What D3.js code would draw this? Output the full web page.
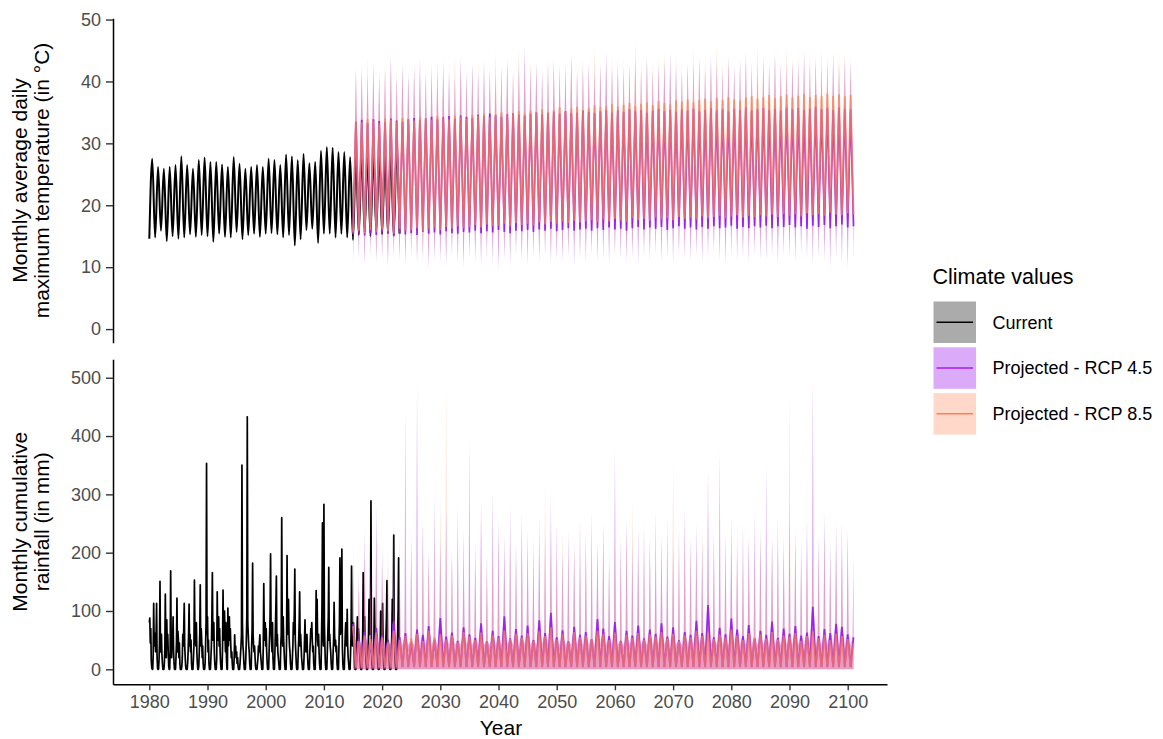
<!DOCTYPE html>
<html><head><meta charset="utf-8">
<script src="https://cdn.jsdelivr.net/npm/d3@7"></script>
<style>
body{margin:0;background:#fff}
svg{display:block}
text{font-family:"Liberation Sans",Arial,Helvetica,sans-serif}
</style>
</head><body>
<svg id="chart" width="1163" height="739"></svg>
<script>
// ---------------- DATA ----------------
const xTickYears = [1980,1990,2000,2010,2020,2030,2040,2050,2060,2070,2080,2090,2100];
const tempTicks = [0,10,20,30,40,50];
const rainTicks = [0,100,200,300,400,500];
const seriesNames = ["Current","Projected - RCP 4.5","Projected - RCP 8.5"];

// Current temperature: winter trough (Jan, 1980-2023) and summer peak (Jul, 1980-2022)
const currentStart = 1980;
const tempCurrentTrough = [14.6,14.8,15.9,14.2,15.0,14.6,14.8,15.3,14.9,15.2,
 15.0,14.1,15.4,14.9,14.8,15.7,14.5,15.2,15.4,14.9,
 15.4,15.5,15.3,14.8,15.2,13.5,14.5,16.0,16.2,13.9,
 15.4,15.4,14.8,15.4,14.8,14.4,15.2,15.6,15.0,15.8,
 15.3,15.5,15.1,15.4];
const tempCurrentPeak = [27.5,26.2,25.9,26.2,26.5,27.9,26.5,25.9,27.3,27.7,
 27.0,27.0,26.6,26.2,27.8,26.7,25.9,26.2,26.5,26.2,
 27.5,27.3,26.5,28.2,27.9,27.3,28.3,26.8,27.0,28.8,
 29.4,29.3,28.6,28.6,27.8,28.4,28.9,28.2,28.7,29.0,
 28.5,28.8,29.1];

// Current monthly rainfall (Jan..Dec), 1980-2022
const rainCurrentMonthly = [
 [80,88,45,70,15,3,0,0,25,113,40,62],
 [55,30,60,113,20,2,0,0,15,45,151,30],
 [40,60,25,10,0,0,0,10,35,129,50,20],
 [85,40,60,30,5,0,0,30,169,55,20,60],
 [40,90,30,10,0,0,0,20,45,122,30,65],
 [50,20,45,10,0,0,0,5,20,60,40,70],
 [113,40,20,5,0,0,0,10,30,60,112,40],
 [60,30,50,10,0,0,0,20,40,153,60,50],
 [40,80,30,10,0,0,5,30,60,145,40,70],
 [50,20,40,10,0,0,0,10,40,80,353,60],
 [90,30,50,10,0,0,0,20,40,90,166,50],
 [60,80,30,10,0,0,0,20,133,50,60,90],
 [40,70,30,10,0,0,0,40,136,50,70,100],
 [60,30,80,20,0,0,105,40,60,90,50,70],
 [40,20,30,10,0,0,0,20,59,30,40,20],
 [30,10,20,5,0,0,0,10,25,40,60,350],
 [80,40,30,10,0,0,0,20,50,90,433,80],
 [60,40,30,10,0,0,0,40,70,182,60,40],
 [30,40,20,5,0,0,0,10,20,40,30,45],
 [59,30,20,10,0,0,0,40,147,60,50,80],
 [40,70,30,10,0,0,0,30,60,90,198,70],
 [50,30,80,20,0,0,0,30,70,110,160,40],
 [60,30,20,10,0,0,0,40,60,260,80,40],
 [90,50,30,10,0,0,0,50,195,60,80,120],
 [60,40,30,10,0,0,0,20,40,80,60,100],
 [172,50,30,10,0,0,0,30,50,80,133,40],
 [60,40,20,10,0,0,0,20,50,85,40,30],
 [40,60,30,10,0,0,0,30,50,70,60,80],
 [50,30,40,10,0,0,0,40,135,60,120,50],
 [40,60,30,10,0,0,0,50,110,251,60,40],
 [283,80,40,10,0,0,0,30,60,90,175,50],
 [60,40,30,10,0,0,0,30,50,115,60,40],
 [50,30,40,10,0,0,0,40,80,191,60,70],
 [100,206,40,10,0,0,0,30,60,80,50,40],
 [103,40,20,10,0,0,0,30,60,177,50,40],
 [60,80,30,10,0,0,0,40,60,90,50,70],
 [60,40,30,10,0,0,0,30,60,166,80,50],
 [90,40,30,10,0,0,0,30,60,120,70,60],
 [80,289,40,10,0,0,0,40,122,80,60,50],
 [40,60,30,10,0,0,0,20,40,100,60,40],
 [60,113,40,10,0,0,0,30,60,90,152,40],
 [50,40,30,10,0,0,0,30,60,120,80,90],
 [230,60,40,10,0,0,0,30,60,100,191,40]
];

// Projected (2015-2100/2101): multi-model mean peaks/troughs and ribbon extremes
const projStart = 2015;
const temp45Peak = [33.5,33.8,33.3,33.9,33.6,33.4,34.0,33.7,33.5,33.9,
 34.1,33.8,34.0,34.3,33.9,34.2,34.4,34.0,34.5,34.3,
 34.1,34.6,34.4,34.8,34.5,34.3,34.7,34.9,34.6,34.4,
 34.8,35.0,34.7,34.9,35.1,34.8,35.2,34.9,35.0,35.3,
 35.1,34.9,35.2,35.4,35.0,35.3,35.1,35.5,35.2,35.4,
 35.0,35.3,35.6,35.2,35.4,35.1,35.5,35.3,35.6,35.2,
 35.4,35.7,35.3,35.5,35.2,35.6,35.4,35.8,35.3,35.5,
 35.7,35.4,35.6,35.3,35.8,35.5,35.7,35.4,35.6,35.9,
 35.5,35.7,35.4,35.8,35.6,35.5];
const temp85Peak = [33.6,33.4,33.9,33.7,33.2,34.0,33.8,33.5,34.1,33.9,
 33.7,34.2,34.0,33.8,34.4,34.1,33.9,34.5,34.3,34.0,
 34.6,34.4,34.8,34.2,34.7,35.0,34.6,34.9,35.2,34.8,
 35.3,35.0,35.5,35.1,35.4,35.8,35.2,35.6,35.9,35.4,
 35.7,36.1,35.8,36.0,36.3,35.9,36.2,36.5,36.0,36.4,
 36.6,36.2,36.8,36.5,36.3,36.9,36.7,37.1,36.6,37.0,
 37.2,36.8,37.3,37.0,37.5,37.1,36.9,37.4,37.6,37.2,
 37.5,37.8,37.3,37.6,37.9,37.4,37.7,38.0,37.5,37.8,
 37.6,38.0,37.7,37.9,37.6,37.8];
const temp45Trough = [15.3,15.6,15.1,15.5,15.2,15.7,15.4,15.0,15.6,15.3,
 15.5,15.2,15.7,15.4,15.6,15.3,15.8,15.5,15.4,15.7,
 15.6,15.9,15.5,15.8,15.6,16.0,15.7,15.5,15.9,15.8,
 16.0,15.7,16.1,15.9,16.2,15.8,16.0,16.3,15.9,16.1,
 16.2,15.9,16.3,16.0,16.4,16.1,16.2,15.9,16.3,16.5,
 16.1,16.4,16.2,16.5,16.0,16.3,16.6,16.2,16.4,16.1,
 16.5,16.2,16.6,16.3,16.4,16.7,16.2,16.5,16.3,16.6,
 16.4,16.7,16.3,16.6,16.5,16.8,16.4,16.6,16.2,16.7,
 16.5,16.8,16.3,16.6,16.9,16.4,16.6];
const temp85Trough = [15.6,15.9,15.4,16.0,15.7,16.1,15.8,15.5,16.2,15.9,
 16.0,16.3,15.8,16.2,16.4,16.0,16.5,16.2,16.6,16.3,
 16.5,16.8,16.4,16.9,16.6,16.7,17.0,16.6,17.1,16.8,
 17.0,16.7,17.2,16.9,17.3,17.0,17.4,17.1,17.5,17.2,
 17.4,17.6,17.2,17.7,17.4,17.8,17.5,17.3,17.9,17.6,
 17.8,17.5,18.0,17.7,17.9,17.6,18.1,17.8,18.0,17.7,
 18.2,17.9,18.1,18.3,17.9,18.2,18.4,18.0,18.3,18.1,
 18.4,18.2,18.5,18.1,18.6,18.3,18.5,18.2,18.7,18.4,
 18.6,18.3,18.8,18.5,18.4,18.7,18.5];
const temp45High = [41.8,42.6,40.9,43.2,41.4,42.0,43.7,40.8,42.9,41.6,
 42.2,43.9,41.1,42.7,41.9,43.3,42.1,40.7,44.0,41.5,
 42.8,41.2,43.6,42.0,41.4,42.5,43.8,41.3,42.6,45.7,
 42.1,43.0,41.6,42.4,43.5,41.8,42.9,44.2,41.7,42.3,
 43.1,41.5,42.8,44.9,42.2,43.4,41.9,42.7,43.6,42.0,
 43.9,41.8,42.5,43.2,44.6,42.4,41.7,43.0,42.6,43.8,
 42.1,44.3,42.9,41.6,43.5,42.3,43.1,44.0,42.5,41.9,
 43.7,42.8,44.4,43.0,42.2,43.3,42.6,45.1,42.7,43.9,
 42.4,43.2,44.7,42.9,43.6,42.8];
const temp85High = [42.5,41.0,43.8,41.5,40.6,42.9,44.6,41.8,42.2,40.9,
 43.1,41.7,42.4,40.8,43.5,42.0,41.3,44.1,42.7,41.1,
 42.8,43.4,41.6,42.1,44.8,41.9,43.0,42.3,45.2,41.4,
 43.6,42.5,41.8,44.0,42.9,43.3,41.7,44.5,42.4,43.8,
 42.0,45.5,43.1,42.6,44.2,41.9,43.7,42.8,46.3,43.0,
 44.4,42.7,43.9,45.0,42.3,44.6,43.2,42.9,45.4,43.6,
 44.1,42.8,45.8,43.4,44.7,42.6,44.0,45.1,43.3,46.0,
 44.3,43.0,44.9,42.7,45.6,43.9,44.5,43.1,44.8,43.5,
 45.2,44.0,43.6,44.4,45.0,44.2];
const temp45Low = [10.8,11.5,10.2,11.9,10.6,11.1,9.8,11.4,10.9,10.3,
 11.7,10.5,11.2,9.6,11.0,10.7,10.1,11.6,10.4,9.9,
 11.3,10.8,10.0,11.5,10.6,9.4,11.1,10.3,11.8,10.9,
 10.2,11.4,10.7,11.9,10.5,11.0,10.8,11.6,10.1,11.3,
 10.6,11.8,10.9,11.2,10.4,12.0,11.1,10.7,11.5,10.3,
 11.6,11.0,12.1,10.8,11.4,10.5,11.9,11.2,10.9,11.7,
 10.6,11.3,12.2,11.0,10.4,11.8,11.1,11.5,10.7,12.0,
 11.2,10.9,11.6,10.3,11.9,11.4,10.8,12.1,11.3,10.6,
 11.7,11.0,9.9,11.5,10.5,9.7,11.2];
const temp85Low = [11.8,12.5,11.2,12.9,11.6,12.3,11.0,12.7,12.1,11.5,
 12.8,11.9,12.4,11.3,12.6,12.0,11.7,13.0,12.2,11.4,
 12.9,12.3,11.8,13.1,12.5,11.9,12.7,12.2,13.2,12.0,
 12.6,13.3,12.1,12.8,11.9,13.0,12.4,12.9,13.4,12.3,
 12.7,13.1,12.5,13.6,12.8,12.2,13.3,12.9,12.6,13.5,
 13.0,12.7,13.8,12.9,13.2,13.6,12.8,13.4,13.1,13.9,
 12.7,13.5,13.2,13.7,13.0,14.0,13.3,12.9,13.8,13.4,
 13.1,14.1,13.5,13.2,13.9,13.6,13.0,14.2,13.7,13.3,
 14.0,13.6,13.4,14.3,13.8,13.5,13.9];

// Projected rainfall: wet-season (Jan) mean peak and ribbon top, 2015-2101
const rain45Peak = [78,52,64,45,71,58,49,83,55,62,
 47,68,59,74,51,88,56,63,49,72,
 60,54,79,48,66,57,91,53,69,58,
 75,50,84,62,97,55,67,48,73,59,
 64,52,86,70,57,81,49,66,58,75,
 53,68,61,79,56,72,50,64,59,83,
 62,110,55,71,60,87,68,57,76,53,
 66,59,82,54,70,61,74,58,63,107,
 57,69,62,78,73,60,55];
const rain85Peak = [74,48,58,52,63,55,46,66,50,57,
 53,61,49,66,55,60,51,58,47,64,
 56,50,63,48,59,54,67,52,61,55,
 62,49,65,57,72,51,60,47,64,55,
 58,52,66,61,50,63,48,59,54,62,
 51,60,56,64,53,61,49,58,55,66,
 57,63,52,60,55,68,58,50,62,54,
 60,53,64,51,58,56,62,49,57,65,
 53,59,50,61,57,52,45];
const rain45High = [180,150,240,190,280,210,160,250,200,445,
 230,490,260,200,300,220,270,210,280,240,
 395,220,290,200,310,260,230,280,220,270,
 240,210,260,230,295,250,200,240,210,260,
 230,270,220,250,200,378,230,260,210,240,
 250,220,270,230,260,210,240,280,230,250,
 220,340,240,375,230,260,210,250,230,270,
 240,349,220,260,230,280,240,220,260,506,
 230,270,220,250,252,238,200];
const rain85High = [220,170,200,150,230,180,210,160,240,190,
 210,180,240,200,170,301,490,190,230,180,
 220,190,250,170,210,230,180,220,190,240,
 200,230,180,323,210,190,240,200,220,180,
 230,190,210,250,180,220,200,240,292,190,
 210,230,180,220,200,357,190,230,210,180,
 240,200,220,190,230,210,250,180,220,200,
 230,190,240,210,200,477,220,190,230,200,
 210,240,190,220,200,230,170];
// dry-season (Jul) mean and ribbon top
const rain45Dry = 4, rain85Dry = 3;
const rain45DryHigh = 42, rain85DryHigh = 34;

// ---------------- BUILD ----------------
const month = 1/12;
function seasonal(start, winter, summer){
  const pts=[];
  winter.forEach((v,i)=>{
    pts.push({t:start+i, v:v});
    if(i<summer.length) pts.push({t:start+i+0.5, v:summer[i]});
  });
  return pts;
}
function tempRibbon(start, trough, peak, lo, hi){
  const pts=[];
  trough.forEach((v,i)=>{
    pts.push({t:start+i, lo:lo[i], hi:v});
    if(i<peak.length) pts.push({t:start+i+0.5, lo:peak[i], hi:hi[i]});
  });
  return pts;
}
function rainLine(start, wet, dry){
  const pts=[];
  wet.forEach((v,i)=>{
    pts.push({t:start+i, v:v});
    if(i<wet.length-1) pts.push({t:start+i+0.5, v:dry});
  });
  return pts;
}
// ribbon: spike to the ribbon top in the wet month, shoulders at the mean peak two months either side
function rainRibbon(start, wet, wetHi, dryHi){
  const pts=[];
  wetHi.forEach((v,i)=>{
    if(i>0) pts.push({t:start+i-2*month, lo:0, hi:wet[i]});
    pts.push({t:start+i, lo:0, hi:v});
    if(i<wetHi.length-1){
      pts.push({t:start+i+2*month, lo:0, hi:wet[i]});
      pts.push({t:start+i+0.5, lo:0, hi:dryHi});
    }
  });
  return pts;
}
const tempCur = seasonal(currentStart, tempCurrentTrough, tempCurrentPeak);
const temp45 = seasonal(projStart, temp45Trough, temp45Peak);
const temp85 = seasonal(projStart, temp85Trough, temp85Peak);
const temp45Rib = tempRibbon(projStart, temp45Trough, temp45Peak, temp45Low, temp45High);
const temp85Rib = tempRibbon(projStart, temp85Trough, temp85Peak, temp85Low, temp85High);
const rainCur = [];
rainCurrentMonthly.forEach((row,i)=>row.forEach((v,m)=>rainCur.push({t:currentStart+i+m*month, v:v})));
const rain45 = rainLine(projStart, rain45Peak, rain45Dry);
const rain85 = rainLine(projStart, rain85Peak, rain85Dry);
const rain45Rib = rainRibbon(projStart, rain45Peak, rain45High, rain45DryHigh);
const rain85Rib = rainRibbon(projStart, rain85Peak, rain85High, rain85DryHigh);

// ---------------- DRAW ----------------
const colors = {cur:"#000000", p45:"#A020F0", p85:"#FF7F50"};
const fills = {cur:{c:"#000000",o:0.33}, p45:{c:"#A020F0",o:0.38}, p85:{c:"#FF7F50",o:0.3}};
const svg = d3.select("#chart");
const x = d3.scaleLinear().domain([1973.76,2106.75]).range([113,887]);
const yT = d3.scaleLinear().domain([-2.2,50.2]).range([342.7,18.3]);
const yR = d3.scaleLinear().domain([-25.7,531.6]).range([684.3,359.3]);

function drawPanel(y, cur, rib45, rib85, l45, l85, curCurve, curW){
  const g = svg.append("g");
  const curLine = d3.line().x(d=>x(d.t)).y(d=>y(d.v)).curve(curCurve);
  const line = d3.line().x(d=>x(d.t)).y(d=>y(d.v));
  const area = d3.area().x(d=>x(d.t)).y0(d=>y(d.lo)).y1(d=>y(d.hi));
  g.append("path").attr("d", curLine(cur))
    .attr("fill","none").attr("stroke",colors.cur).attr("stroke-width",curW).attr("stroke-linejoin","round");
  g.append("path").attr("d", area(rib45)).attr("fill",fills.p45.c).attr("fill-opacity",fills.p45.o);
  g.append("path").attr("d", area(rib85)).attr("fill",fills.p85.c).attr("fill-opacity",fills.p85.o);
  g.append("path").attr("d", line(l45)).attr("fill","none").attr("stroke",colors.p45).attr("stroke-width",1.7);
  g.append("path").attr("d", line(l85)).attr("fill","none").attr("stroke",colors.p85)
    .attr("stroke-opacity",0.72).attr("stroke-width",1.9);
}
drawPanel(yT, tempCur, temp45Rib, temp85Rib, temp45, temp85, d3.curveMonotoneX, 2.0);
drawPanel(yR, rainCur, rain45Rib, rain85Rib, rain45, rain85, d3.curveLinear, 1.7);

function styleAxis(g){
  g.select(".domain").attr("stroke","#000").attr("stroke-width",1.5);
  g.selectAll(".tick line").attr("stroke","#333").attr("stroke-width",1.4);
  g.selectAll(".tick text").attr("fill","#4d4d4d").style("font-size","18px").attr("font-family",null);
}
svg.append("g").attr("transform","translate(113,0)")
  .call(d3.axisLeft(yT).tickValues(tempTicks).tickSize(7).tickSizeOuter(0).tickPadding(5))
  .call(styleAxis);
svg.append("g").attr("transform","translate(113,0)")
  .call(d3.axisLeft(yR).tickValues(rainTicks).tickSize(7).tickSizeOuter(0).tickPadding(5))
  .call(styleAxis);
svg.append("g").attr("transform","translate(0,684.3)")
  .call(d3.axisBottom(x).tickValues(xTickYears).tickFormat(d3.format("d")).tickSize(6).tickSizeOuter(0).tickPadding(5))
  .call(styleAxis);

// titles
svg.append("text").attr("x",501).attr("y",735).attr("text-anchor","middle")
  .style("font-size","21px").attr("fill","#000").text("Year");
function yTitle(cy, l1, l2){
  svg.append("text").attr("transform",`translate(27,${cy}) rotate(-90)`).attr("text-anchor","middle")
    .style("font-size","21px").attr("fill","#000").text(l1);
  svg.append("text").attr("transform",`translate(48.5,${cy}) rotate(-90)`).attr("text-anchor","middle")
    .style("font-size","21px").attr("fill","#000").text(l2);
}
yTitle(180.5, "Monthly average daily", "maximum temperature (in °C)");
yTitle(521.8, "Monthly cumulative", "rainfall (in mm)");

// legend
const lg = svg.append("g");
lg.append("text").attr("x",932.5).attr("y",283.5).style("font-size","21.5px").attr("fill","#000").text("Climate values");
const keys = ["cur","p45","p85"];
keys.forEach((k,i)=>{
  const ky = 301.5 + i*45.8;
  lg.append("rect").attr("x",933.5).attr("y",ky).attr("width",42.5).attr("height",41.5)
    .attr("fill",fills[k].c).attr("fill-opacity",fills[k].o);
  lg.append("line").attr("x1",936.5).attr("x2",973).attr("y1",ky+20.75).attr("y2",ky+20.75)
    .attr("stroke",colors[k]).attr("stroke-width",1.5);
  lg.append("text").attr("x",992.5).attr("y",ky+20.75+6.4).style("font-size","18px").attr("fill","#000").text(seriesNames[i]);
});
</script>
</body></html>
